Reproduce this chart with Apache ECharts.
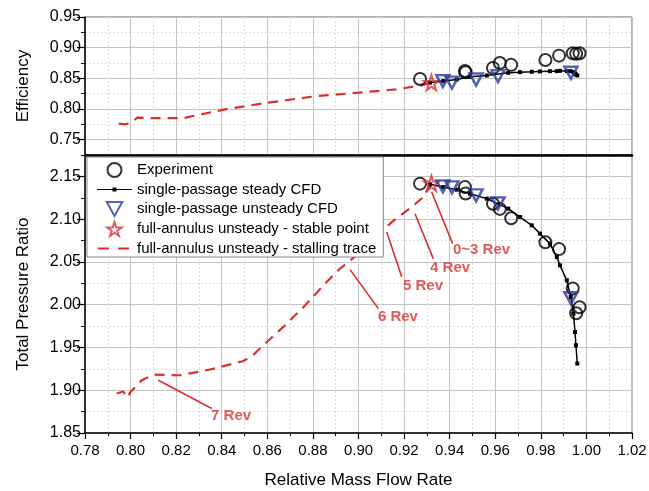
<!DOCTYPE html>
<html>
<head>
<meta charset="utf-8">
<script src="https://cdn.jsdelivr.net/npm/echarts@6/dist/echarts.min.js"></script>
<style>
  html, body { margin: 0; padding: 0; background: #fff; }
  #chart { width: 649px; height: 491px; }
</style>
</head>
<body>
<div id="chart"></div>
<script>
// ---- Measured data: compressor speed-line (relative mass flow vs. efficiency / pressure ratio) ----
const expFlow = [0.927, 0.9467, 0.947, 0.959, 0.962, 0.967, 0.982, 0.988, 0.994, 0.9955, 0.997];
const expEff  = [0.849, 0.862, 0.860, 0.867, 0.875, 0.872, 0.880, 0.887, 0.891, 0.890, 0.891];
const expPR   = [2.1415, 2.1375, 2.130, 2.118, 2.112, 2.101, 2.073, 2.065, 2.019, 1.990, 1.997];

const steadyFlow = [0.9314, 0.9372, 0.9431, 0.9489, 0.9563, 0.9657, 0.9709, 0.9760, 0.9796,
                    0.9840, 0.9870, 0.9884, 0.9914, 0.9931, 0.9943, 0.9950, 0.9954, 0.9960];
const steadyEff  = [0.843, 0.8455, 0.8482, 0.8526, 0.8547, 0.8591, 0.8601, 0.8607, 0.8612,
                    0.8617, 0.8617, 0.8623, 0.8617, 0.8617, 0.8601, 0.858, 0.8563, 0.8547];
const steadyPR   = [2.1407, 2.1375, 2.1345, 2.1298, 2.1240, 2.1123, 2.1025, 2.0928, 2.0831,
                    2.0714, 2.0557, 2.0460, 2.0285, 2.0090, 1.9896, 1.9681, 1.9526, 1.9312];

const unsteadyFlow = [0.937, 0.941, 0.9516, 0.9612, 0.9932];
const unsteadyEff  = [0.8455, 0.843, 0.848, 0.8536, 0.859];
const unsteadyPR   = [2.1383, 2.1372, 2.1278, 2.1185, 2.0075];

const stableFlow = [0.932];
const stableEff  = [0.843];
const stablePR   = [2.142];

const traceEffFlow = [0.7948, 0.7975, 0.800, 0.803, 0.8085, 0.823, 0.8414, 0.8597, 0.8817, 0.900, 0.9165, 0.9275, 0.932];
const traceEff     = [0.7763, 0.775, 0.777, 0.786, 0.785, 0.785, 0.7995, 0.810, 0.8211, 0.8266, 0.832, 0.8385, 0.843];

const tracePRFlow = [0.7939, 0.7968, 0.7985, 0.8000, 0.8049, 0.810, 0.8217, 0.8349, 0.8495, 0.8538, 0.8582,
                     0.867, 0.8758, 0.886, 0.8919, 0.8992, 0.9146, 0.9233, 0.9284, 0.932];
const tracePR     = [1.8961, 1.8985, 1.8914, 1.898, 1.9117, 1.9183, 1.9175, 1.9242, 1.9342, 1.941, 1.9526,
                     1.974, 1.997, 2.0265, 2.0422, 2.0577, 2.0966, 2.1141, 2.1258, 2.142];

// Revolution annotations: label position, arrow tail and arrow tip (flow, pressure ratio)
const revText      = ['0~3 Rev', '4 Rev', '5 Rev', '6 Rev', '7 Rev'];
const revLabelFlow = [0.954, 0.9402, 0.9283, 0.9173, 0.8441];
const revLabelPR   = [2.0644, 2.0433, 2.0215, 1.9853, 1.8696];
const revTailFlow  = [0.9413, 0.9328, 0.919, 0.9087, 0.8356];
const revTailPR    = [2.0714, 2.0539, 2.0324, 1.9954, 1.8786];
const revTipFlow   = [0.9321, 0.9248, 0.9124, 0.8963, 0.8122];
const revTipPR     = [2.1317, 2.1064, 2.0849, 2.041, 1.9117];

// Axis ticks
const effTicks = [0.75, 0.80, 0.85, 0.90, 0.95];
const prTicks  = [1.85, 1.90, 1.95, 2.00, 2.05, 2.10, 2.15];

const FONT = '"Liberation Sans", Arial, sans-serif';
const RED = '#d9302f';
const BLUE = '#2b3a9e';
const TRI_DOWN = 'path://M0,0 L10,0 L5,9 Z';
const STAR = 'path://M50,0 L61,35 L98,35 L68,57 L79,91 L50,70 L21,91 L32,57 L2,35 L39,35 Z';
// legend glyphs sized to the 35x14 legend cell
const ICON_STEADY = 'path://M0,0 M35,14 M0,6.4 L35,6.4 L35,7.6 L0,7.6 Z M15.5,5 L19.5,5 L19.5,9 L15.5,9 Z';
const ICON_DASH = 'path://M0,0 M35,14 M1,6 L12,6 L12,8 L1,8 Z M21,6 L32,6 L32,8 L21,8 Z';

const zip = (xs, ys) => xs.map((x, i) => [x, ys[i]]);

const majorSplit = { show: true, lineStyle: { color: '#c4c4c4', width: 1 } };
const minorSplit = { show: true, lineStyle: { color: '#dcdcdc', width: 1, type: [2, 2] } };

function xAxisFor(gridIndex, withLabels) {
  return {
    type: 'value', gridIndex, min: 0.78, max: 1.02, interval: 0.02,
    axisLine: { show: true, onZero: false, lineStyle: { color: '#000', width: withLabels ? 1.5 : 2.5 } },
    axisTick: { show: withLabels, length: 6, lineStyle: { color: '#000', width: 1.2 } },
    minorTick: { show: withLabels, splitNumber: 2, length: 3, lineStyle: { color: '#000', width: 1 } },
    axisLabel: {
      show: withLabels, margin: 10, color: '#000', fontSize: 15, fontFamily: FONT,
      formatter: v => v.toFixed(2)
    },
    splitLine: majorSplit,
    minorSplitLine: minorSplit,
    name: withLabels ? 'Relative Mass Flow Rate' : '',
    nameLocation: 'middle', nameGap: 39,
    nameTextStyle: { color: '#000', fontSize: 17, fontFamily: FONT }
  };
}

function yMajor(gridIndex, min, max, ticks, name) {
  return {
    type: 'value', gridIndex, min, max, position: 'left', offset: 0,
    axisLine: { show: true, onZero: false, lineStyle: { color: '#000', width: 1.5 } },
    axisTick: { show: true, length: 8, customValues: ticks, lineStyle: { color: '#000', width: 1.2 } },
    axisLabel: {
      show: true, margin: 4, color: '#000', fontSize: 16, fontFamily: FONT,
      customValues: ticks, formatter: v => v.toFixed(2)
    },
    splitLine: majorSplit,
    name, nameLocation: 'middle', nameGap: 53,
    nameTextStyle: { color: '#000', fontSize: 17, fontFamily: FONT }
  };
}

function yMinor(gridIndex, min, max) {
  return {
    type: 'value', gridIndex, min, max, interval: 0.025, position: 'left', offset: 0,
    axisLine: { show: false },
    axisTick: { show: true, length: 4, lineStyle: { color: '#000', width: 1 } },
    axisLabel: { show: false },
    splitLine: minorSplit
  };
}

const hollow = (color, w) => ({ color: 'rgba(255,255,255,0)', borderColor: color, borderWidth: w });

const revLines = revText.map((t, i) => [
  { coord: [revTailFlow[i], revTailPR[i]] },
  { coord: [revTipFlow[i], revTipPR[i]] }
]);

const option = {
  animation: false,
  backgroundColor: '#fff',
  textStyle: { fontFamily: FONT },
  grid: [
    { left: 85, top: 17, width: 547, height: 138, outerBoundsMode: 'none', containLabel: false,
      show: true, borderColor: '#666', borderWidth: 1 },
    { left: 85, top: 155, width: 547, height: 278, outerBoundsMode: 'none', containLabel: false,
      show: true, borderColor: '#888', borderWidth: 1 }
  ],
  xAxis: [xAxisFor(0, false), xAxisFor(1, true)],
  yAxis: [
    yMinor(0, 0.725, 0.95),
    yMajor(0, 0.725, 0.95, effTicks, 'Efficiency'),
    yMinor(1, 1.85, 2.175),
    yMajor(1, 1.85, 2.175, prTicks, 'Total Pressure Ratio')
  ],
  legend: {
    orient: 'vertical', left: 87, top: 157,
    padding: [5, 7, 1, 10], itemGap: 4, itemWidth: 35, itemHeight: 14,
    backgroundColor: '#fff', borderColor: '#888', borderWidth: 1,
    textStyle: { color: '#000', fontSize: 15, fontFamily: FONT },
    data: [
      { name: 'Experiment' },
      { name: 'single-passage steady CFD', icon: ICON_STEADY },
      { name: 'single-passage unsteady CFD' },
      { name: 'full-annulus unsteady - stable point' },
      { name: 'full-annulus unsteady - stalling trace', icon: ICON_DASH }
    ]
  },
  series: [
    // stalling trace (dashed)
    { name: 'full-annulus unsteady - stalling trace', type: 'line', xAxisIndex: 1, yAxisIndex: 3,
      data: zip(tracePRFlow, tracePR), symbol: 'none', z: 2,
      lineStyle: { color: RED, width: 2.2, type: [10, 7] }, itemStyle: { color: RED } },
    { name: 'full-annulus unsteady - stalling trace', type: 'line', xAxisIndex: 0, yAxisIndex: 1,
      data: zip(traceEffFlow, traceEff), symbol: 'none', z: 2,
      lineStyle: { color: RED, width: 2.2, type: [10, 7] }, itemStyle: { color: RED } },
    // experiment
    { name: 'Experiment', type: 'scatter', xAxisIndex: 1, yAxisIndex: 3,
      data: zip(expFlow, expPR), symbol: 'circle', symbolSize: 12, z: 3, itemStyle: hollow('#000', 2) },
    { name: 'Experiment', type: 'scatter', xAxisIndex: 0, yAxisIndex: 1,
      data: zip(expFlow, expEff), symbol: 'circle', symbolSize: 12, z: 3, itemStyle: hollow('#000', 2) },
    // steady CFD
    { name: 'single-passage steady CFD', type: 'line', xAxisIndex: 1, yAxisIndex: 3,
      data: zip(steadyFlow, steadyPR), symbol: 'rect', symbolSize: 4, showSymbol: true, z: 4,
      lineStyle: { color: '#000', width: 1.5 }, itemStyle: { color: '#000' } },
    { name: 'single-passage steady CFD', type: 'line', xAxisIndex: 0, yAxisIndex: 1,
      data: zip(steadyFlow, steadyEff), symbol: 'rect', symbolSize: 4, showSymbol: true, z: 4,
      lineStyle: { color: '#000', width: 1.5 }, itemStyle: { color: '#000' } },
    // stable point
    { name: 'full-annulus unsteady - stable point', type: 'scatter', xAxisIndex: 1, yAxisIndex: 3,
      data: zip(stableFlow, stablePR), symbol: STAR, symbolSize: 15, z: 5, itemStyle: hollow(RED, 2) },
    { name: 'full-annulus unsteady - stable point', type: 'scatter', xAxisIndex: 0, yAxisIndex: 1,
      data: zip(stableFlow, stableEff), symbol: STAR, symbolSize: 15, z: 5, itemStyle: hollow(RED, 2) },
    // unsteady CFD
    { name: 'single-passage unsteady CFD', type: 'scatter', xAxisIndex: 1, yAxisIndex: 3,
      data: zip(unsteadyFlow, unsteadyPR), symbol: TRI_DOWN, symbolSize: [13, 12], z: 6, itemStyle: hollow(BLUE, 2.5) },
    { name: 'single-passage unsteady CFD', type: 'scatter', xAxisIndex: 0, yAxisIndex: 1,
      data: zip(unsteadyFlow, unsteadyEff), symbol: TRI_DOWN, symbolSize: [13, 12], z: 6, itemStyle: hollow(BLUE, 2.5) },
    // revolution annotations
    { name: 'rev', type: 'scatter', xAxisIndex: 1, yAxisIndex: 3, z: 7, silent: true,
      data: revText.map((t, i) => ({ value: [revLabelFlow[i], revLabelPR[i]], label: { formatter: t } })),
      symbolSize: 0,
      label: { show: true, position: 'inside', color: RED, fontSize: 15, fontWeight: 'bold', fontFamily: FONT },
      markLine: {
        silent: true, symbol: ['none', 'arrow'], symbolSize: [0, 9],
        lineStyle: { color: RED, width: 1.6, type: 'solid' },
        label: { show: false },
        data: revLines
      }
    }
  ]
};

const chart = echarts.init(document.getElementById('chart'), null, { renderer: 'canvas' });
chart.setOption(option);
</script>
</body>
</html>
